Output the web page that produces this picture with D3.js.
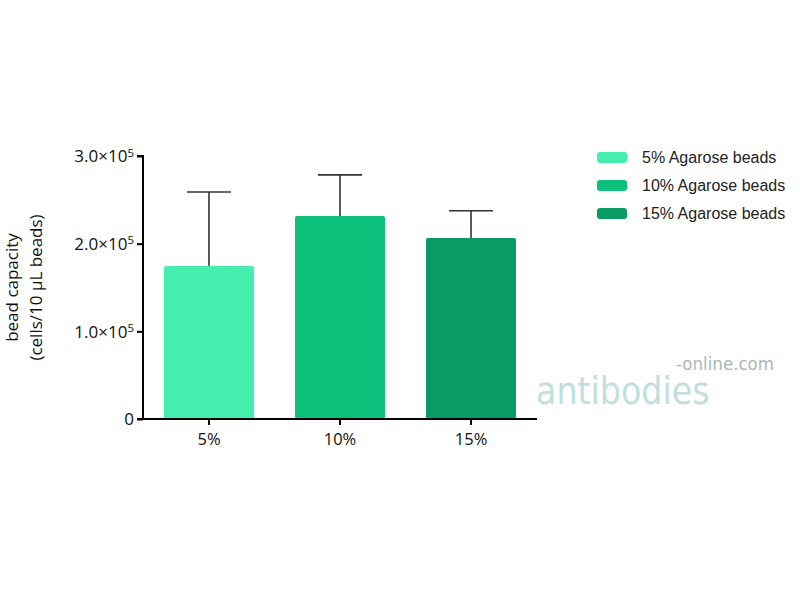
<!DOCTYPE html>
<html>
<head>
<meta charset="utf-8">
<script src="https://cdn.jsdelivr.net/npm/d3@7"></script>
<style>
  html, body { margin: 0; padding: 0; background: #fff; }
  svg { display: block; }
</style>
</head>
<body>
<svg id="chart" width="800" height="600"></svg>
<script>
const categories = ["5%", "10%", "15%"];
const means = [174500, 231500, 206500];
const errorTops = [259000, 278500, 237500];
const seriesNames = ["5% Agarose beads", "10% Agarose beads", "15% Agarose beads"];
const colors = ["#45EDAE", "#0CC07C", "#0A9A64"];
const yTicks = [0, 100000, 200000, 300000];
const yTickLabels = ["0", "1.0×10", "2.0×10", "3.0×10"];

const svg = d3.select("#chart");

const x = d3.scaleBand().domain(categories).range([143, 537]).paddingInner(0.313).paddingOuter(0.16);
const y = d3.scaleLinear().domain([0, 300000]).range([419, 156]);

const font = "'Open Sans', 'Noto Sans', sans-serif";

// bars
svg.selectAll("rect.bar").data(categories).join("rect")
  .attr("class", "bar")
  .attr("x", d => x(d))
  .attr("width", x.bandwidth())
  .attr("y", (d, i) => y(means[i]))
  .attr("height", (d, i) => y(0) - y(means[i]))
  .attr("rx", 2)
  .attr("fill", (d, i) => colors[i]);

// error bars (upper only)
const capW = 44;
const eg = svg.append("g").attr("stroke", "#333").attr("stroke-width", 1.6);
categories.forEach((c, i) => {
  const cx = x(c) + x.bandwidth() / 2;
  eg.append("line").attr("x1", cx).attr("x2", cx).attr("y1", y(means[i])).attr("y2", y(errorTops[i]));
  eg.append("line").attr("x1", cx - capW / 2).attr("x2", cx + capW / 2).attr("y1", y(errorTops[i])).attr("y2", y(errorTops[i]));
});

// y axis
const yAxis = d3.axisLeft(y).tickValues(yTicks).tickSize(6).tickFormat(() => "");
const yg = svg.append("g").attr("transform", "translate(143,0)").call(yAxis);
yg.select(".domain").attr("stroke", "#000").attr("stroke-width", 2).attr("d", `M-6,${y(300000)}H0V${y(0)}`);
yg.selectAll(".tick line").attr("stroke", "#000").attr("stroke-width", 2);
yg.selectAll(".tick").each(function (d, i) {
  const t = d3.select(this).append("text")
    .attr("x", -9).attr("y", 0).attr("dy", "0.35em")
    .attr("text-anchor", "end")
    .attr("fill", "#111")
    .style("font-family", font).style("font-size", "17px");
  if (d === 0) {
    t.text("0");
  } else {
    t.append("tspan").text(yTickLabels[i]);
    t.append("tspan").text("5").attr("dy", "-0.5em").style("font-size", "11.5px");
    t.attr("x", -9);
  }
});

// x axis
const xAxis = d3.axisBottom(x).tickSize(6).tickSizeOuter(0);
const xg = svg.append("g").attr("transform", `translate(0,${y(0)})`).call(xAxis);
xg.select(".domain").attr("stroke", "#000").attr("stroke-width", 2).attr("d", "M137,0H537");
xg.selectAll(".tick line").attr("stroke", "#000").attr("stroke-width", 2);
xg.selectAll(".tick text").attr("fill", "#111").attr("dy", "1.0em")
  .style("font-family", font).style("font-size", "16.5px");

// y title
const yt = svg.append("text")
  .attr("transform", `translate(0,${(y(0) + y(300000)) / 2}) rotate(-90)`)
  .attr("text-anchor", "middle")
  .attr("fill", "#111")
  .style("font-family", font).style("font-size", "17px");
yt.append("tspan").attr("x", 0).attr("y", 18).text("bead capacity");
yt.append("tspan").attr("x", 0).attr("y", 42).text("(cells/10 µL beads)");

// legend
const lg = svg.append("g").attr("transform", "translate(597,157)");
seriesNames.forEach((n, i) => {
  const g = lg.append("g").attr("transform", `translate(0,${i * 28})`);
  g.append("rect").attr("x", 0).attr("y", -5).attr("width", 30).attr("height", 11).attr("rx", 3).attr("fill", colors[i]);
  g.append("text").attr("x", 45).attr("y", 0).attr("dy", "0.36em")
    .attr("fill", "#222")
    .style("font-family", "'Liberation Sans', Arial, sans-serif").style("font-size", "16px")
    .text(n);
});

// watermark (single logo text)
const wm = svg.append("text").attr("x", 536).attr("y", 404)
  .style("font-family", "'DejaVu Sans Condensed', 'DejaVu Sans', sans-serif")
  .style("font-weight", "200");
wm.append("tspan").attr("fill", "#bfe0dc").style("font-size", "37px").text("antibodies");
wm.append("tspan").attr("x", 676).attr("y", 370).attr("fill", "#aab6b6").style("font-size", "18.5px").text("-online.com");
</script>
</body>
</html>
